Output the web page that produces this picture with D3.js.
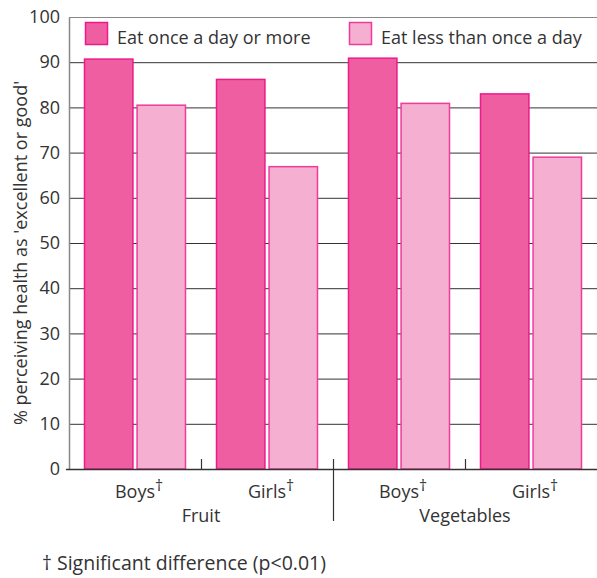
<!DOCTYPE html>
<html>
<head>
<meta charset="utf-8">
<script src="https://cdn.jsdelivr.net/npm/d3@7"></script>
<style>
  body { margin: 0; background: #fff; }
  text { font-family: "Open Sans", "Noto Sans", sans-serif; fill: #333; }
</style>
</head>
<body>
<div id="chart"></div>
<script>
// data
const groups = ['Fruit', 'Vegetables']
const categories = ['Fruit-Boys', 'Fruit-Girls', 'Veg-Boys', 'Veg-Girls']
const catLabels = ['Boys', 'Girls', 'Boys', 'Girls']
const series = ['Eat once a day or more', 'Eat less than once a day']
const daily = [90.8, 86.3, 91.0, 83.1]
const lessDaily = [80.6, 67.0, 81.0, 69.1]
const yTicks = [0, 10, 20, 30, 40, 50, 60, 70, 80, 90, 100]

const fills = ['#ee5ea1', '#f5afd0']
const strokes = ['#ec1a8c', '#ee3b9c']

const W = 597, H = 578
const margin = { top: 17, right: 0, bottom: 109, left: 69 }
const iw = W - margin.left - margin.right
const ih = H - margin.top - margin.bottom

const svg = d3.select('#chart').append('svg')
  .attr('width', W).attr('height', H)

const g = svg.append('g').attr('transform', `translate(${margin.left},${margin.top})`)

const x = d3.scaleBand().domain(categories).range([0, iw]).paddingInner(0).paddingOuter(0)
const xs = d3.scaleBand().domain([0, 1]).range([15, x.bandwidth() - 15]).paddingInner(0.06)
const y = d3.scaleLinear().domain([0, 100]).range([ih, 0])

// gridlines
g.append('g').selectAll('line')
  .data(yTicks.filter(t => t > 0 && t < 100)).join('line')
  .attr('x1', 0).attr('x2', iw)
  .attr('y1', d => y(d) + 0.5).attr('y2', d => y(d) + 0.5)
  .attr('stroke', '#333').attr('stroke-width', 1)

// top border
g.append('line').attr('x1', 0).attr('x2', iw).attr('y1', 0.5).attr('y2', 0.5)
  .attr('stroke', '#888').attr('stroke-width', 1.2)

// y tick labels
const yAxis = d3.axisLeft(y).tickValues(yTicks).tickSize(0).tickPadding(9)
const ya = g.append('g').call(yAxis)
ya.select('.domain').attr('stroke', '#888').attr('stroke-width', 1.5)
ya.selectAll('text').attr('font-size', 18).attr('fill', '#333')
  .style('font-family', '"Open Sans", sans-serif')

// bars
const vals = [daily, lessDaily]
const barG = g.append('g')
categories.forEach((c, i) => {
  vals.forEach((arr, s) => {
    barG.append('rect')
      .attr('x', x(c) + xs(s) + 0.5)
      .attr('y', y(arr[i]) + 0.5)
      .attr('width', xs.bandwidth() - 1)
      .attr('height', ih - y(arr[i]) - 0.5)
      .attr('fill', fills[s])
      .attr('stroke', strokes[s])
      .attr('stroke-width', 1.5)
  })
})

// x axis baseline
g.append('line').attr('x1', -3).attr('x2', iw).attr('y1', ih + 0.5).attr('y2', ih + 0.5)
  .attr('stroke', '#333').attr('stroke-width', 1.5)

// small ticks between categories within a group
;[1, 3].forEach(i => {
  const xx = x(categories[i]) + 0.5
  g.append('line').attr('x1', xx).attr('x2', xx).attr('y1', ih - 10).attr('y2', ih)
    .attr('stroke', '#333').attr('stroke-width', 1.2)
})
// group separator
const sep = x(categories[2]) + 0.5
g.append('line').attr('x1', sep).attr('x2', sep).attr('y1', ih - 10).attr('y2', ih + 52)
  .attr('stroke', '#333').attr('stroke-width', 1.2)

// category labels: word centred in band, dagger hangs off the end
categories.forEach((c, i) => {
  const cx = x(c) + x.bandwidth() / 2
  const t = g.append('text')
    .attr('x', cx).attr('y', ih + 29)
    .attr('text-anchor', 'middle')
    .attr('font-size', 18)
    .text(catLabels[i])
  const w = t.node().getComputedTextLength()
  g.append('text').attr('x', cx + w / 2).attr('y', ih + 22)
    .attr('font-size', 16).text('†')
})

// group labels
groups.forEach((gr, i) => {
  const cx = (x(categories[i * 2]) + x(categories[i * 2 + 1]) + x.bandwidth()) / 2
  g.append('text').attr('x', cx).attr('y', ih + 53)
    .attr('text-anchor', 'middle').attr('font-size', 18).text(gr)
})

// legend
const legend = g.append('g')
series.forEach((s, i) => {
  const lx = i === 0 ? 16 : 280
  legend.append('rect')
    .attr('x', lx + 0.5).attr('y', 5.5).attr('width', 22).attr('height', 22)
    .attr('fill', fills[i]).attr('stroke', strokes[i]).attr('stroke-width', 1.5)
  legend.append('text').attr('x', lx + 32).attr('y', 27)
    .attr('font-size', 18).text(s)
})

// y axis title
svg.append('text')
  .attr('transform', `translate(27,253) rotate(-90)`)
  .attr('text-anchor', 'middle')
  .attr('font-size', 18)
  .text("% perceiving health as 'excellent or good'")

// footnote
svg.append('text').attr('x', 42).attr('y', 570).attr('font-size', 19.5)
  .text('† Significant difference (p<0.01)')
</script>
</body>
</html>
